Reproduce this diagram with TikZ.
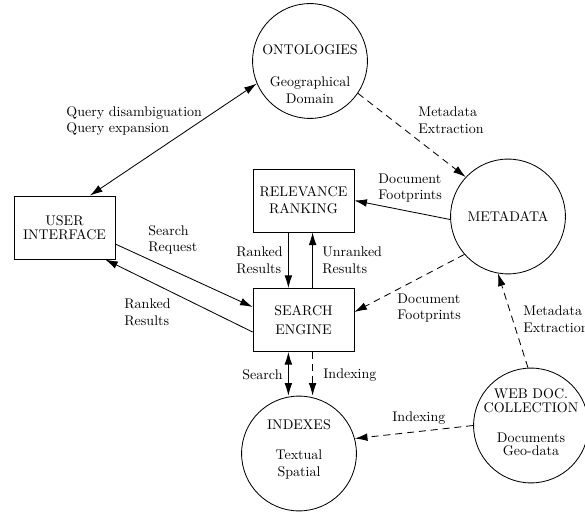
\documentclass[tikz,border=0pt]{standalone}
\usetikzlibrary{arrows.meta,calc}
\tikzset{
        >={Latex[length=9pt,width=5.5pt]},
        block/.style = {draw, rectangle, align=center,
            minimum height=45pt,
            minimum width=72pt},
        store/.style = {draw, circle, minimum size=82pt},
        storetext/.style = {align=center, inner sep=0pt},
        arrow/.style = {draw, ->},
        twoway/.style = {draw, <->},
        dasharrow/.style = {arrow, dash pattern=on 5pt off 3.5pt},
        edgetext/.style = {anchor=west, align=left, inner sep=0pt},
    }

\begin{document}
\begin{tikzpicture}[x=0.714pt, y=-0.714pt, line width=0.6pt]
    \useasboundingbox (0,0) rectangle (585,512);

    % processes
    \node[block] (ui) at (64.5,227.5) {USER\\[-2pt]INTERFACE};
    \node[block] (rr) at (303.5,200.5) {RELEVANCE\\RANKING};
    \node[block] (se) at (303.5,320) {SEARCH\\[2pt]ENGINE};

    % stores
    \node[store] (ont) at (310,61) {};
    \node[storetext] (ont-text) at ($(ont)+(0,13)$) {ONTOLOGIES\\[11pt]Geographical\\Domain};
    \node[store] (meta) at (508,216.5) {};
    \node[storetext] (meta-text) at (meta) {METADATA};
    \node[store] (idx) at (299,453.5) {};
    \node[storetext] (idx-text) at ($(idx)+(0,-4)$) {INDEXES\\[9.5pt]Textual\\Spatial};
    \node[store] (web) at (531,425.5) {};
    \node[storetext] (web-text) at ($(web)+(0,-3.5)$) {WEB DOC.\\[-2pt]COLLECTION\\[9.4pt]Documents\\[-2.7pt]Geo-data};

    % attachment points on the vertical links
    \coordinate (rr-s1) at ([xshift=-10.8pt]rr.south);
    \coordinate (rr-s2) at ([xshift=6.5pt]rr.south);
    \coordinate (se-s1) at ([xshift=-10.8pt]se.south);
    \coordinate (se-s2) at ([xshift=6.5pt]se.south);

    % links
    \draw[twoway] ($(ui.north)!.5!(ui.north east)$) -- (ont.203);
    \draw[dasharrow] (ont.326) -- (meta.137);
    \draw[arrow] (meta.183) -- (rr.east);
    \draw[arrow] (rr-s1) -- (rr-s1 |- se.north);
    \draw[arrow] (rr-s2 |- se.north) -- (rr-s2);
    \draw[arrow] ([yshift=-11.8pt]ui.east) -- ([yshift=9.3pt]se.west);
    \draw[arrow] ([yshift=-8.6pt]se.west) -- ([xshift=29pt]ui.south);
    \draw[dasharrow] (meta.221) -- ([yshift=5.7pt]se.east);
    \draw[twoway] (se-s1) -- (se-s1 |- idx.north);
    \draw[dasharrow] (se-s2) -- (se-s2 |- idx.north);
    \draw[dasharrow] (web.180) -- (idx.15);
    \draw[dasharrow] (web.93) -- (meta.260);

    % link texts
    \node[edgetext] (lbl-query) at (66,121) {Query disambiguation\\Query expansion};
    \node[edgetext] (lbl-ext1) at (418,120) {Metadata\\Extraction};
    \node[edgetext] (lbl-foot1) at (378,188) {Document\\Footprints};
    \node[edgetext] (lbl-request) at (148,240) {Search\\Request};
    \node[edgetext] (lbl-ranked1) at (236,260) {Ranked\\Results};
    \node[edgetext] (lbl-unranked) at (322,260) {Unranked\\Results};
    \node[edgetext] (lbl-ranked2) at (124,312) {Ranked\\Results};
    \node[edgetext] (lbl-foot2) at (397,308) {Document\\Footprints};
    \node[edgetext] (lbl-ext2) at (523,319) {Metadata\\Extraction};
    \node[edgetext] (lbl-search) at (242,375) {Search};
    \node[edgetext] (lbl-index1) at (323,375) {Indexing};
    \node[edgetext] (lbl-index2) at (392,418) {Indexing};
\end{tikzpicture}
\end{document}
